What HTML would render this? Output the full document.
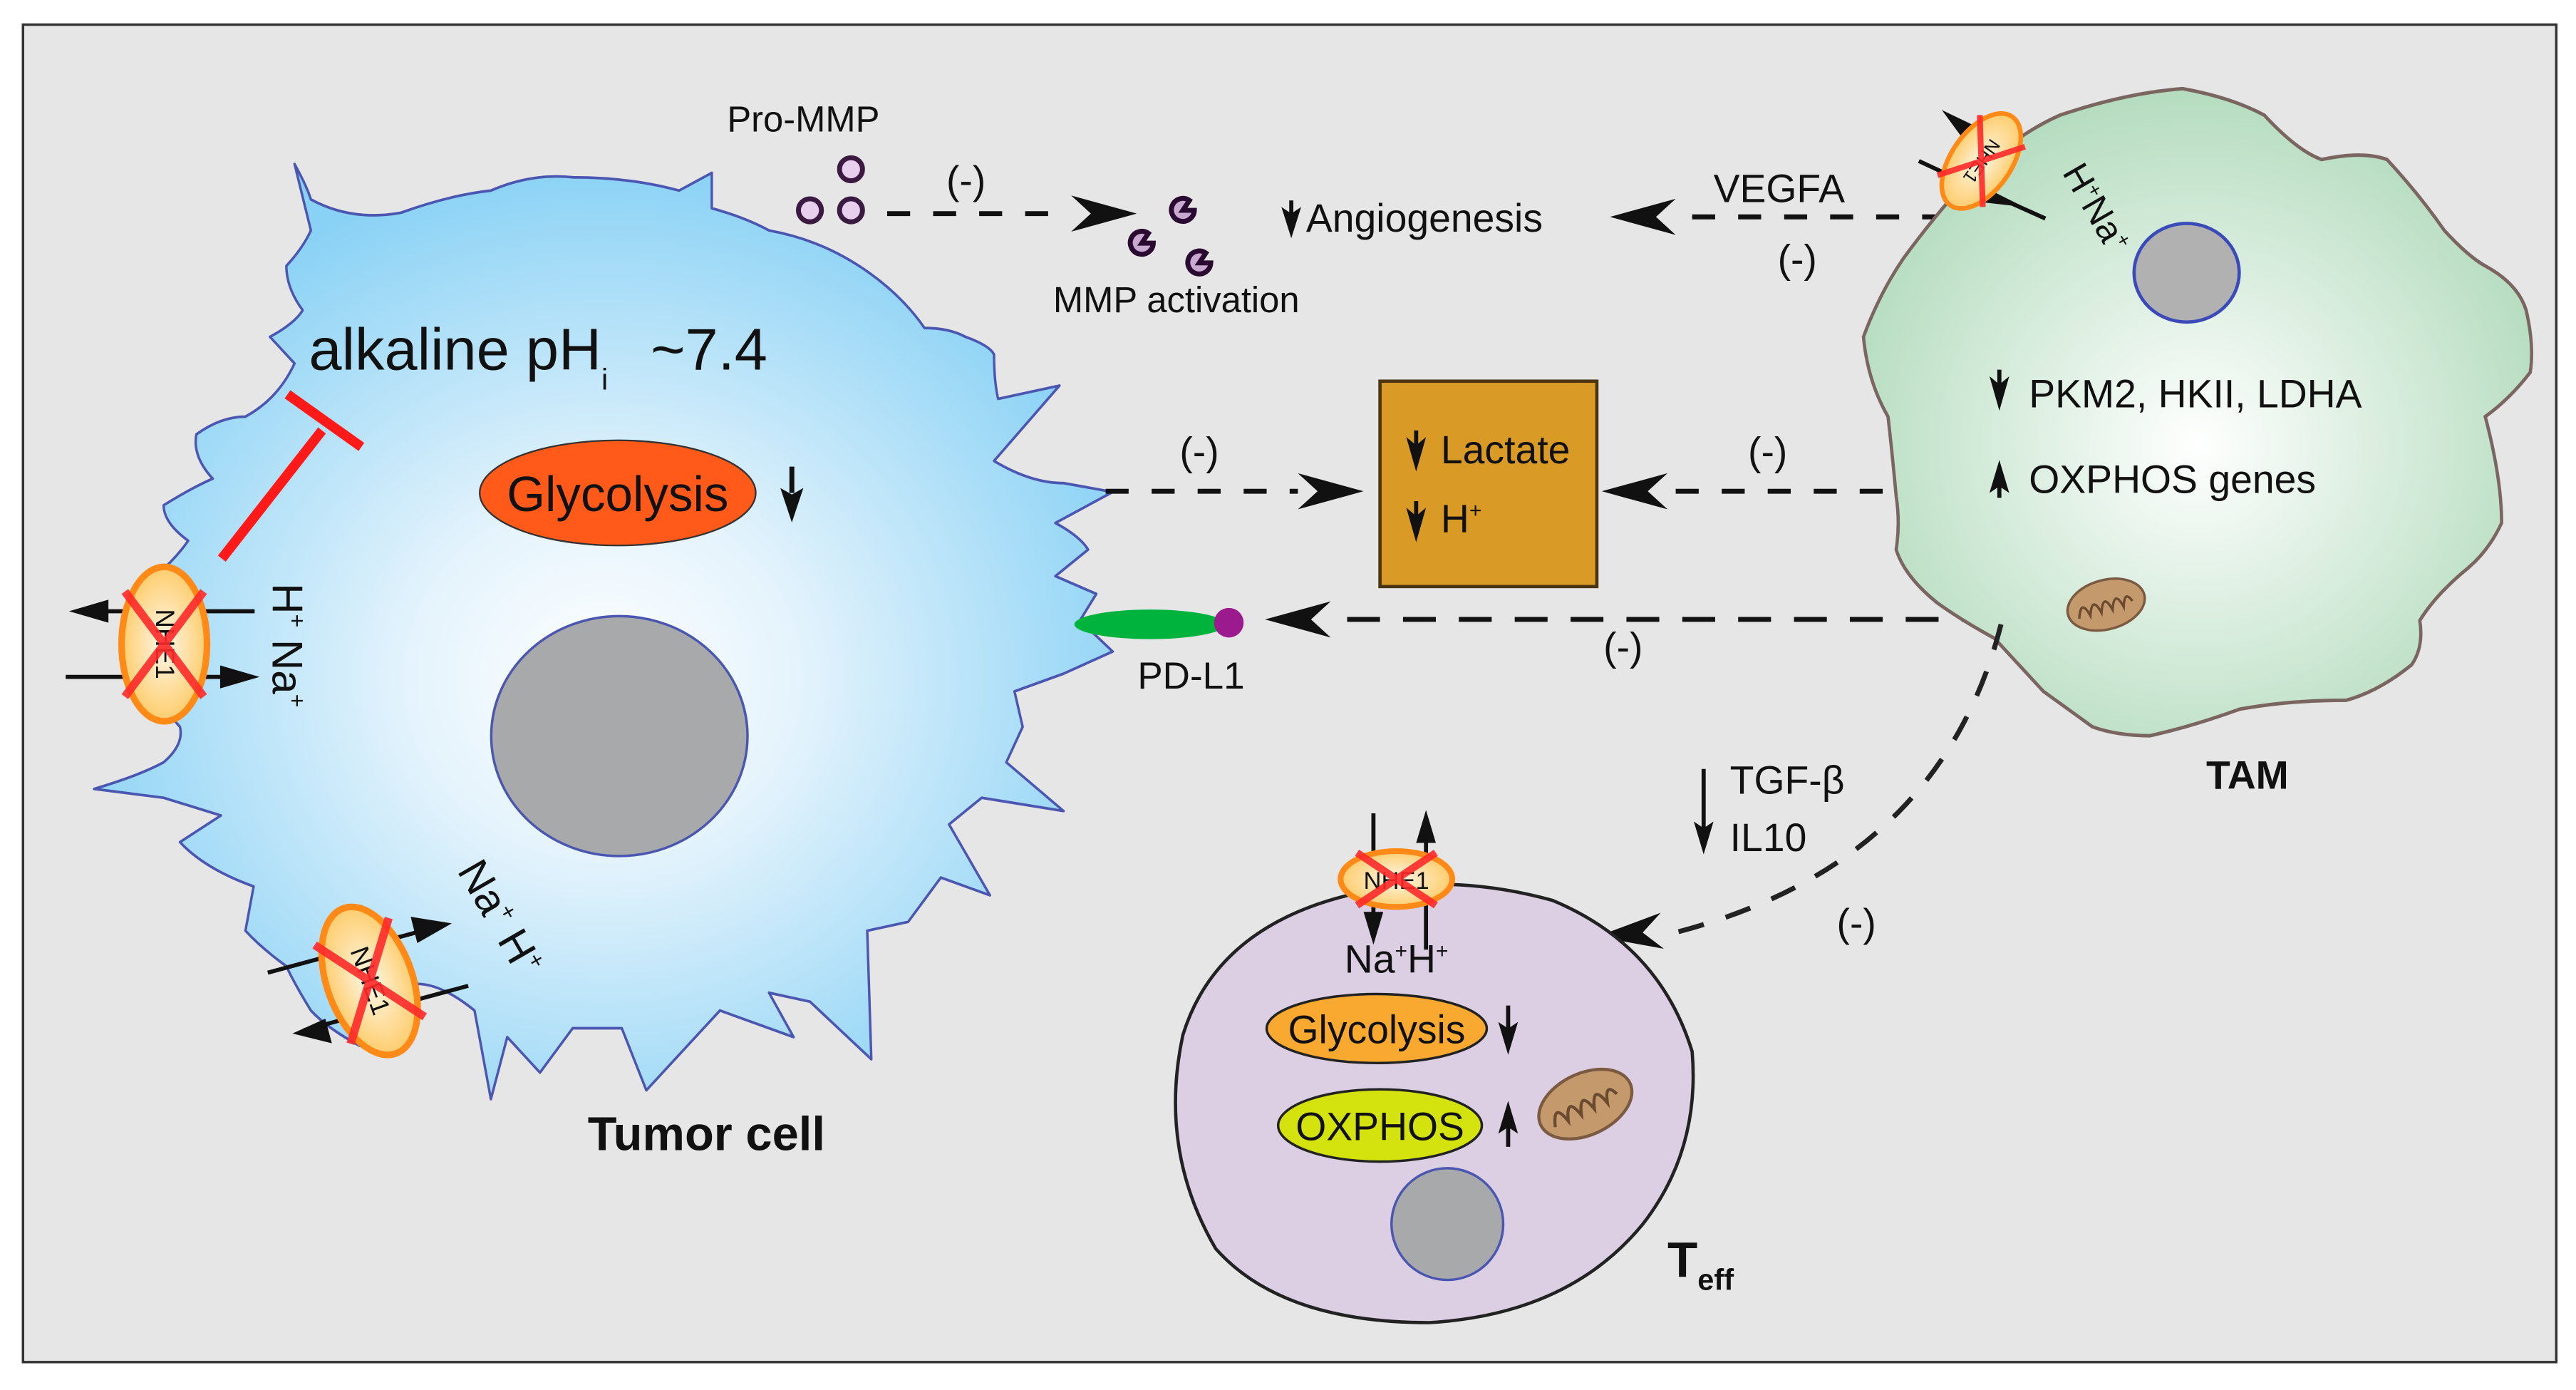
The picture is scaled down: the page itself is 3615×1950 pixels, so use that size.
<!DOCTYPE html>
<html><head><meta charset="utf-8"><style>
html,body{margin:0;padding:0;background:#fff;}
svg{display:block;}
text{font-family:"Liberation Sans",sans-serif;fill:#111;}
</style></head><body>
<svg width="3615" height="1950" viewBox="0 0 1568 846" preserveAspectRatio="none" xmlns="http://www.w3.org/2000/svg">
<defs>
<radialGradient id="tg" cx="0.5" cy="0.55" r="0.55"><stop offset="0" stop-color="#ffffff"/><stop offset="0.35" stop-color="#e4f3fc"/><stop offset="1" stop-color="#8ad2f5"/></radialGradient>
<radialGradient id="gg" cx="0.5" cy="0.55" r="0.55"><stop offset="0" stop-color="#ffffff"/><stop offset="1" stop-color="#b5dcbf"/></radialGradient>
<radialGradient id="ng" cx="0.5" cy="0.5" r="0.5"><stop offset="0" stop-color="#fff8e8"/><stop offset="1" stop-color="#fdcd6e"/></radialGradient>
<g id="ah"><path d="M0,0 L-40,-11 L-28,0 L-40,11 Z" fill="#111"/></g>
<g id="nhe">
<ellipse cx="0" cy="0" rx="26" ry="47" fill="url(#ng)" stroke="#ff8a18" stroke-width="4"/>
<text x="0" y="5" font-size="16" text-anchor="middle" transform="rotate(90)">NHE1</text>
<path d="M-24,-32 L24,32 M24,-32 L-24,32" stroke="#ff2a2a" stroke-width="5" opacity="0.9"/>
</g>
<g id="mito"><ellipse cx="0" cy="0" rx="24" ry="15" fill="#c49a6c" stroke="#7a5a40" stroke-width="1.5"/>
<path d="M-18,4 q4,-12 7,0 q4,-12 7,0 q4,-12 7,0 q4,-12 7,0 q3,-10 6,-2" fill="none" stroke="#6b4a30" stroke-width="1.5"/></g>
</defs>
<rect x="0" y="0" width="1568" height="846" fill="#fff"/>
<rect x="14" y="15" width="1542" height="814" fill="#e6e6e6" stroke="#333" stroke-width="1.5"/>

<!-- Tumor cell -->
<g transform="scale(0.498,0.5395)">
<path d="M360,185 Q375,210 380,225 Q430,250 490,240 Q550,220 600,215 Q650,195 700,200 Q770,200 830,215 L870,195 L870,235 Q910,245 940,260 Q1000,270 1050,300 Q1100,330 1130,370 Q1160,370 1180,380 Q1210,390 1215,400 Q1215,430 1220,450 L1295,435 L1215,520 Q1260,545 1300,545 L1360,555 L1290,590 Q1320,605 1330,620 L1290,650 L1340,670 L1320,700 L1360,735 L1300,760 L1240,780 L1250,820 L1230,860 L1300,915 L1200,900 L1160,930 L1210,1010 L1150,990 L1110,1040 L1060,1050 L1065,1195 L990,1130 L940,1120 L970,1170 L880,1140 L840,1180 L790,1230 L760,1160 L700,1160 L660,1210 L620,1170 L600,1240 L580,1140 Q540,1110 510,1110 Q470,1160 440,1180 Q400,1160 380,1140 Q360,1110 350,1090 Q320,1070 300,1050 L310,1000 Q250,980 220,950 L270,920 L200,900 L115,890 Q170,875 200,860 Q225,840 220,820 Q190,790 190,760 Q205,730 200,700 Q185,680 190,650 Q215,630 230,610 Q200,590 200,570 Q235,550 260,540 Q235,515 240,490 Q270,470 300,470 Q340,450 360,410 L330,380 Q360,365 370,350 Q350,325 350,300 Q370,280 380,260 Z" fill="url(#tg)" stroke="#4b56b0" stroke-width="3" stroke-linejoin="round"/>
</g>
<ellipse cx="377" cy="448" rx="78" ry="73" fill="#a8a9ab" stroke="#4b56b0" stroke-width="1.5"/>
<text x="188" y="225" font-size="36">alkaline pH<tspan font-size="18" dy="12">i</tspan><tspan dy="-12" dx="26">~7.4</tspan></text>
<path d="M135,340 L196,262 M175,240 L220,272" stroke="#ff1a1a" stroke-width="6" fill="none"/>
<ellipse cx="376" cy="300" rx="84" ry="32" fill="#ff5a1a" stroke="#333" stroke-width="1"/>
<text x="376" y="311" font-size="30" text-anchor="middle">Glycolysis</text>
<path d="M482,284 L482,300" stroke="#111" stroke-width="3"/><path d="M482,318 L475,297 L482,301 L489,297 Z" fill="#111"/>
<!-- left NHE1 -->
<path d="M155,372 L60,372 M40,412 L140,412" stroke="#111" stroke-width="2.5"/>
<path d="M42,372 L66,365 L66,379 Z M158,412 L134,405 L134,419 Z" fill="#111"/>
<use href="#nhe" transform="translate(100,392)"/>
<text transform="translate(166,355) rotate(90)" font-size="26">H<tspan font-size="14" dy="-10">+</tspan><tspan dy="10"> Na</tspan><tspan font-size="14" dy="-10">+</tspan></text>
<!-- bottom NHE1 -->
<path d="M163,592 L270,563 M285,600 L185,627" stroke="#111" stroke-width="2.5"/>
<path d="M275,562 L250,558 L254,574 Z M178,629 L202,635 L198,620 Z" fill="#111"/>
<use href="#nhe" transform="translate(225,597) rotate(-20)"/>
<text transform="translate(278,530) rotate(60)" font-size="26">Na<tspan font-size="14" dy="-10">+</tspan><tspan dy="10"> H</tspan><tspan font-size="14" dy="-10">+</tspan></text>
<text x="430" y="700" font-size="29" font-weight="bold" text-anchor="middle">Tumor cell</text>

<!-- PD-L1 -->
<ellipse cx="700" cy="380" rx="46" ry="9" fill="#00b33c"/>
<circle cx="748" cy="379" r="9" fill="#9b1b8f"/>
<text x="725" y="419" font-size="23" text-anchor="middle">PD-L1</text>

<!-- Pro-MMP -->
<text x="489" y="80" font-size="22" text-anchor="middle">Pro-MMP</text>
<g fill="#e8cfee" stroke="#3a1a40" stroke-width="3"><circle cx="518" cy="103" r="7"/><circle cx="493" cy="128" r="7"/><circle cx="518" cy="128" r="7"/></g>
<path d="M540,130 L650,130" stroke="#111" stroke-width="3" stroke-dasharray="14,14"/>
<use href="#ah" transform="translate(692,130)"/>
<text x="588" y="118" font-size="24" text-anchor="middle">(-)</text>
<g fill="#c9a9cf" stroke="#2a0a30" stroke-width="3">
<path d="M727,128 a7,7 0 1,1 -3,-6 L720,128 Z"/><path d="M702,148 a7,7 0 1,1 -3,-6 L695,148 Z"/><path d="M737,160 a7,7 0 1,1 -3,-6 L730,160 Z"/></g>
<text x="716" y="190" font-size="22" text-anchor="middle">MMP activation</text>
<path d="M786,122 L786,135" stroke="#111" stroke-width="2.5"/><path d="M786,145 L780,126 L786,130 L792,126 Z" fill="#111"/>
<text x="795" y="141" font-size="24">Angiogenesis</text>
<use href="#ah" transform="translate(980,132) rotate(180)"/>
<path d="M1030,132 L1180,132" stroke="#111" stroke-width="3" stroke-dasharray="14,14"/>
<text x="1083" y="123" font-size="24" text-anchor="middle">VEGFA</text>
<text x="1094" y="166" font-size="24" text-anchor="middle">(-)</text>

<!-- Lactate -->
<rect x="840" y="232" width="132" height="125" fill="#d99a26" stroke="#4a3510" stroke-width="2"/>
<path d="M862,262 L862,275 M862,305 L862,318" stroke="#111" stroke-width="2.5"/><path d="M862,287 L856,266 L862,271 L868,266 Z M862,330 L856,309 L862,314 L868,309 Z" fill="#111"/>
<text x="877" y="282" font-size="24">Lactate</text>
<text x="877" y="324" font-size="24">H<tspan font-size="13" dy="-9">+</tspan></text>
<path d="M673,299 L790,299" stroke="#111" stroke-width="3" stroke-dasharray="14,14"/>
<use href="#ah" transform="translate(830,299)"/>
<text x="730" y="283" font-size="24" text-anchor="middle">(-)</text>
<use href="#ah" transform="translate(975,299) rotate(180)"/>
<path d="M1020,299 L1160,299" stroke="#111" stroke-width="3" stroke-dasharray="14,14"/>
<text x="1076" y="283" font-size="24" text-anchor="middle">(-)</text>
<!-- PD-L1 arrow -->
<use href="#ah" transform="translate(770,377) rotate(180)"/>
<path d="M820,377 L1215,377" stroke="#111" stroke-width="3" stroke-dasharray="20,14"/>
<text x="988" y="402" font-size="24" text-anchor="middle">(-)</text>

<!-- TAM -->
<g transform="translate(780.7,0) scale(0.498,0.5395)">
<path d="M710,380 Q730,330 760,290 Q800,240 840,200 Q900,150 950,130 Q1030,105 1100,100 Q1160,110 1200,130 Q1240,170 1270,180 Q1320,170 1350,180 Q1390,220 1420,260 Q1450,290 1470,300 Q1510,320 1520,350 Q1530,390 1525,420 Q1500,450 1470,470 Q1490,540 1490,590 Q1475,620 1450,640 Q1410,670 1390,700 Q1395,730 1380,750 Q1340,780 1300,790 Q1230,790 1170,800 Q1110,820 1060,830 Q1020,830 990,820 Q960,800 930,780 Q900,750 870,720 Q830,700 800,680 Q760,650 750,620 Q755,590 750,560 Q745,510 740,470 Q715,430 710,380 Z" fill="url(#gg)" stroke="#7a6560" stroke-width="4"/>
</g>
<ellipse cx="1331" cy="166" rx="32" ry="30" fill="#b0b1b0" stroke="#3a4ab8" stroke-width="2"/>
<path d="M1217,225 L1217,238" stroke="#111" stroke-width="2.5"/><path d="M1217,250 L1211,229 L1217,234 L1223,229 Z" fill="#111"/>
<text x="1235" y="248" font-size="24">PKM2, HKII, LDHA</text>
<path d="M1217,303 L1217,292" stroke="#111" stroke-width="2.5"/><path d="M1217,280 L1211,300 L1217,296 L1223,300 Z" fill="#111"/>
<text x="1235" y="300" font-size="24">OXPHOS genes</text>
<use href="#mito" transform="translate(1282,368) rotate(-15)"/>
<path d="M1168,98 L1198,112 M1216,120 L1245,133" stroke="#111" stroke-width="2.5"/>
<path d="M1182,67 L1205,78 L1196,86 Z M1232,126 L1210,115 L1206,123 Z" fill="#111"/>
<use href="#nhe" transform="translate(1206,98) scale(0.7) rotate(35)"/>
<text transform="translate(1255,105) rotate(60)" font-size="22">H<tspan font-size="12" dy="-8">+</tspan><tspan dy="8">Na</tspan><tspan font-size="12" dy="-8">+</tspan></text>
<text x="1368" y="480" font-size="24" font-weight="bold" text-anchor="middle">TAM</text>

<!-- curved dashed to Teff -->
<path d="M1218,380 Q1180,530 1010,570" fill="none" stroke="#222" stroke-width="3" stroke-dasharray="16,14"/>
<use href="#ah" transform="translate(972,570) rotate(175)"/>
<text x="1130" y="570" font-size="24" text-anchor="middle">(-)</text>
<path d="M1037,468 L1037,505" stroke="#111" stroke-width="2.5"/><path d="M1037,520 L1031,500 L1037,504 L1043,500 Z" fill="#111"/>
<text x="1053" y="483" font-size="24">TGF-β</text>
<text x="1053" y="518" font-size="24">IL10</text>

<!-- Teff -->
<path d="M720,630 Q740,565 820,545 Q880,530 945,548 Q1010,575 1030,640 Q1035,700 1000,745 Q955,800 870,805 Q780,805 740,760 Q705,700 720,630 Z" fill="#dccfe4" stroke="#222" stroke-width="2"/>
<path d="M836,495 L836,560 M868,578 L868,510" stroke="#111" stroke-width="2.5"/>
<path d="M836,575 L830,555 L842,555 Z M868,493 L862,513 L874,513 Z" fill="#111"/>
<ellipse cx="850" cy="535" rx="34" ry="17" fill="url(#ng)" stroke="#ff8a18" stroke-width="3.5"/>
<text x="850" y="541" font-size="15" text-anchor="middle">NHE1</text>
<path d="M826,519 L874,551 M874,519 L826,551" stroke="#ff2a2a" stroke-width="4.5" opacity="0.9"/>
<text x="850" y="592" font-size="24" text-anchor="middle">Na<tspan font-size="13" dy="-9">+</tspan><tspan dy="9">H</tspan><tspan font-size="13" dy="-9">+</tspan></text>
<ellipse cx="838" cy="626" rx="67" ry="21" fill="#f9a930" stroke="#222" stroke-width="1.5"/>
<text x="838" y="635" font-size="24" text-anchor="middle">Glycolysis</text>
<path d="M918,612 L918,628" stroke="#111" stroke-width="2.5"/><path d="M918,642 L912,622 L918,626 L924,622 Z" fill="#111"/>
<ellipse cx="840" cy="685" rx="62" ry="22" fill="#d4e20e" stroke="#222" stroke-width="1.5"/>
<text x="840" y="694" font-size="24" text-anchor="middle">OXPHOS</text>
<path d="M918,698 L918,684" stroke="#111" stroke-width="2.5"/><path d="M918,670 L912,690 L918,686 L924,690 Z" fill="#111"/>
<use href="#mito" transform="translate(965,672) rotate(-25) scale(1.25)"/>
<circle cx="881" cy="745" r="34" fill="#a8a9ab" stroke="#4b56b0" stroke-width="1.5"/>
<text x="1015" y="777" font-size="30" font-weight="bold">T<tspan font-size="18" dy="8">eff</tspan></text>
</svg>
</body></html>
